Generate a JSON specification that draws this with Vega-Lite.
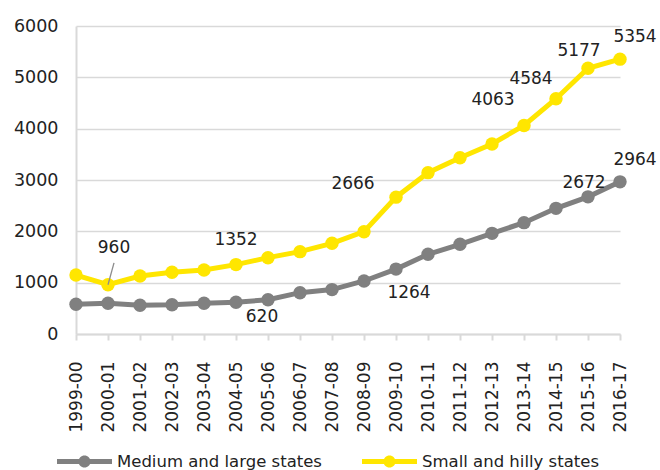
{
  "$schema": "https://vega.github.io/schema/vega-lite/v6.json",
  "autosize": {"type": "none"},
  "width": 544,
  "height": 308,
  "padding": {"left": 76, "top": 26, "right": 40, "bottom": 136},
  "background": "white",
  "config": {
    "view": {"stroke": null},
    "font": "DejaVu Sans",
    "text": {"font": "DejaVu Sans", "fontSize": 17, "color": "#222222"}
  },
  "data": {
    "values": [
      {"year": "1999-00", "series": "Medium and large states", "value": 578},
      {"year": "2000-01", "series": "Medium and large states", "value": 598},
      {"year": "2001-02", "series": "Medium and large states", "value": 559},
      {"year": "2002-03", "series": "Medium and large states", "value": 571},
      {"year": "2003-04", "series": "Medium and large states", "value": 598},
      {"year": "2004-05", "series": "Medium and large states", "value": 620},
      {"year": "2005-06", "series": "Medium and large states", "value": 668},
      {"year": "2006-07", "series": "Medium and large states", "value": 805},
      {"year": "2007-08", "series": "Medium and large states", "value": 865},
      {"year": "2008-09", "series": "Medium and large states", "value": 1033},
      {"year": "2009-10", "series": "Medium and large states", "value": 1264},
      {"year": "2010-11", "series": "Medium and large states", "value": 1552},
      {"year": "2011-12", "series": "Medium and large states", "value": 1747},
      {"year": "2012-13", "series": "Medium and large states", "value": 1961},
      {"year": "2013-14", "series": "Medium and large states", "value": 2169},
      {"year": "2014-15", "series": "Medium and large states", "value": 2448},
      {"year": "2015-16", "series": "Medium and large states", "value": 2672},
      {"year": "2016-17", "series": "Medium and large states", "value": 2964},
      {"year": "1999-00", "series": "Small and hilly states", "value": 1149},
      {"year": "2000-01", "series": "Small and hilly states", "value": 960},
      {"year": "2001-02", "series": "Small and hilly states", "value": 1130},
      {"year": "2002-03", "series": "Small and hilly states", "value": 1202},
      {"year": "2003-04", "series": "Small and hilly states", "value": 1247},
      {"year": "2004-05", "series": "Small and hilly states", "value": 1352},
      {"year": "2005-06", "series": "Small and hilly states", "value": 1487},
      {"year": "2006-07", "series": "Small and hilly states", "value": 1604},
      {"year": "2007-08", "series": "Small and hilly states", "value": 1767},
      {"year": "2008-09", "series": "Small and hilly states", "value": 1993},
      {"year": "2009-10", "series": "Small and hilly states", "value": 2666},
      {"year": "2010-11", "series": "Small and hilly states", "value": 3143},
      {"year": "2011-12", "series": "Small and hilly states", "value": 3435},
      {"year": "2012-13", "series": "Small and hilly states", "value": 3702},
      {"year": "2013-14", "series": "Small and hilly states", "value": 4063},
      {"year": "2014-15", "series": "Small and hilly states", "value": 4584},
      {"year": "2015-16", "series": "Small and hilly states", "value": 5177},
      {"year": "2016-17", "series": "Small and hilly states", "value": 5354}
    ]
  },
  "encoding": {
    "x": {
      "field": "year",
      "type": "ordinal",
      "scale": {"type": "point", "padding": 0},
      "axis": {
        "title": null,
        "labelAngle": -90,
        "labelFont": "DejaVu Sans",
        "labelFontSize": 17,
        "labelColor": "#222222",
        "labelPadding": 21,
        "domainColor": "#d9d9d9",
        "domainWidth": 2,
        "tickColor": "#d9d9d9",
        "tickWidth": 2,
        "tickSize": 6,
        "grid": false
      }
    },
    "y": {
      "field": "value",
      "type": "quantitative",
      "scale": {"domain": [0, 6000], "nice": false},
      "axis": {
        "title": null,
        "values": [0, 1000, 2000, 3000, 4000, 5000, 6000],
        "format": "d",
        "labelFont": "DejaVu Sans",
        "labelFontSize": 17.5,
        "labelColor": "#222222",
        "labelPadding": 18,
        "ticks": false,
        "domainColor": "#d9d9d9",
        "domainWidth": 2,
        "gridColor": "#d9d9d9",
        "gridWidth": 1.5
      }
    }
  },
  "layer": [
    {
      "mark": {"type": "line", "strokeWidth": 5, "point": {"filled": true, "size": 180, "opacity": 1}},
      "encoding": {
        "color": {
          "field": "series",
          "type": "nominal",
          "scale": {"domain": ["Medium and large states", "Small and hilly states"], "range": ["#808080", "#FFE600"]},
          "legend": {
            "title": null,
            "orient": "none",
            "direction": "horizontal",
            "legendX": -19,
            "legendY": 408,
            "symbolType": "M-1,-0.09L1,-0.09L1,0.09L-1,0.09Z M0.22,0A0.22,0.22 0 1 1 -0.22,0A0.22,0.22 0 1 1 0.22,0Z",
            "symbolSize": 3025,
            "symbolStrokeWidth": 0,
            "labelFont": "DejaVu Sans",
            "labelFontSize": 16.5,
            "labelColor": "#222222",
            "labelOffset": 5,
            "labelLimit": 400,
            "columnPadding": 40,
            "encode": {
              "symbols": {"update": {"fill": {"scale": "color", "field": "value"}, "fillOpacity": {"value": 1}, "strokeWidth": {"value": 0}, "opacity": {"value": 1}}}
            }
          }
        }
      }
    },
    {
      "transform": [{"filter": "datum.year === '2000-01' && datum.series === 'Small and hilly states'"}],
      "mark": {"type": "rule", "color": "#8c8c8c", "strokeWidth": 1.3, "x2Offset": 6},
      "encoding": {"x2": {"field": "year"}, "y2": {"datum": 1385}}
    },
    {
      "transform": [{"filter": "datum.year === '2000-01' && datum.series === 'Small and hilly states'"}],
      "mark": {"type": "text", "dx": 6, "dy": -37},
      "encoding": {"text": {"field": "value", "type": "quantitative", "format": "d"}}
    },
    {
      "transform": [{"filter": "datum.year === '2004-05' && datum.series === 'Small and hilly states'"}],
      "mark": {"type": "text", "dx": 0, "dy": -25},
      "encoding": {"text": {"field": "value", "type": "quantitative", "format": "d"}}
    },
    {
      "transform": [{"filter": "datum.year === '2009-10' && datum.series === 'Small and hilly states'"}],
      "mark": {"type": "text", "dx": -43, "dy": -13},
      "encoding": {"text": {"field": "value", "type": "quantitative", "format": "d"}}
    },
    {
      "transform": [{"filter": "datum.year === '2013-14' && datum.series === 'Small and hilly states'"}],
      "mark": {"type": "text", "dx": -31, "dy": -25},
      "encoding": {"text": {"field": "value", "type": "quantitative", "format": "d"}}
    },
    {
      "transform": [{"filter": "datum.year === '2014-15' && datum.series === 'Small and hilly states'"}],
      "mark": {"type": "text", "dx": -25, "dy": -20},
      "encoding": {"text": {"field": "value", "type": "quantitative", "format": "d"}}
    },
    {
      "transform": [{"filter": "datum.year === '2015-16' && datum.series === 'Small and hilly states'"}],
      "mark": {"type": "text", "dx": -9, "dy": -17},
      "encoding": {"text": {"field": "value", "type": "quantitative", "format": "d"}}
    },
    {
      "transform": [{"filter": "datum.year === '2016-17' && datum.series === 'Small and hilly states'"}],
      "mark": {"type": "text", "dx": 15, "dy": -22},
      "encoding": {"text": {"field": "value", "type": "quantitative", "format": "d"}}
    },
    {
      "transform": [{"filter": "datum.year === '2004-05' && datum.series === 'Medium and large states'"}],
      "mark": {"type": "text", "dx": 26, "dy": 15},
      "encoding": {"text": {"field": "value", "type": "quantitative", "format": "d"}}
    },
    {
      "transform": [{"filter": "datum.year === '2009-10' && datum.series === 'Medium and large states'"}],
      "mark": {"type": "text", "dx": 13, "dy": 24},
      "encoding": {"text": {"field": "value", "type": "quantitative", "format": "d"}}
    },
    {
      "transform": [{"filter": "datum.year === '2015-16' && datum.series === 'Medium and large states'"}],
      "mark": {"type": "text", "dx": -4, "dy": -14},
      "encoding": {"text": {"field": "value", "type": "quantitative", "format": "d"}}
    },
    {
      "transform": [{"filter": "datum.year === '2016-17' && datum.series === 'Medium and large states'"}],
      "mark": {"type": "text", "dx": 15, "dy": -22},
      "encoding": {"text": {"field": "value", "type": "quantitative", "format": "d"}}
    }
  ]
}
